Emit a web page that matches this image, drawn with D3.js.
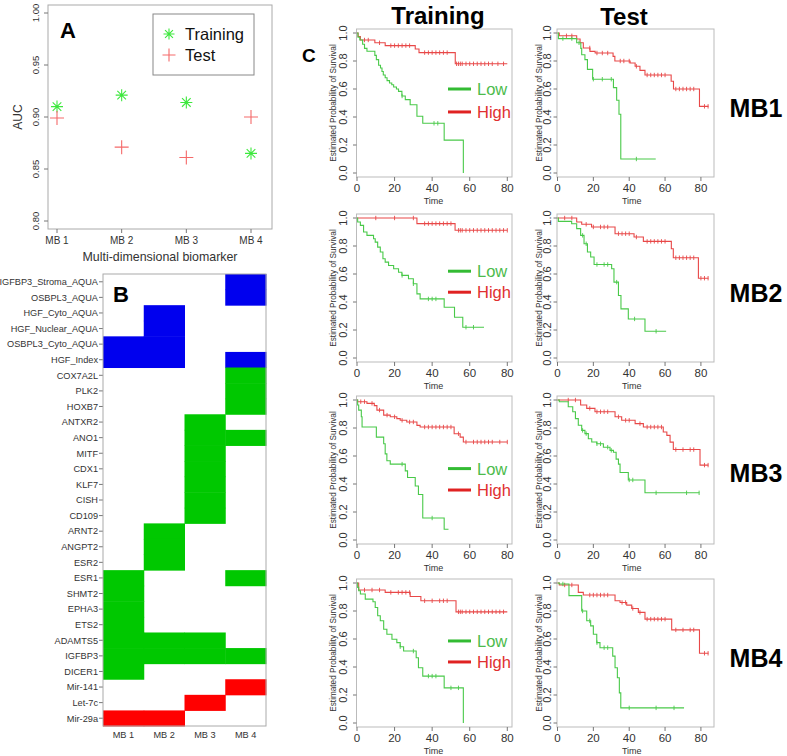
<!DOCTYPE html>
<html><head><meta charset="utf-8">
<script src="https://cdn.jsdelivr.net/npm/d3@7"></script>
<style>body{margin:0;background:#fff}svg{display:block;font-family:"Liberation Sans",Arial,Helvetica,sans-serif}</style>
</head><body><svg id="c" width="787" height="756"></svg>
<script>
// ---------- Panel A data ----------
const mbLabels = ["MB 1", "MB 2", "MB 3", "MB 4"];
const aucTraining = [0.910, 0.921, 0.914, 0.865];
const aucTest = [0.899, 0.871, 0.861, 0.900];
const aucTicks = [0.80, 0.85, 0.90, 0.95, 1.00];

// ---------- Panel B data ----------
const genes = ["IGFBP3_Stroma_AQUA","OSBPL3_AQUA","HGF_Cyto_AQUA","HGF_Nuclear_AQUA","OSBPL3_Cyto_AQUA","HGF_Index",
  "COX7A2L","PLK2","HOXB7","ANTXR2","ANO1","MITF","CDX1","KLF7","CISH","CD109","ARNT2","ANGPT2","ESR2","ESR1",
  "SHMT2","EPHA3","ETS2","ADAMTS5","IGFBP3","DICER1","Mir-141","Let-7c","Mir-29a"];
const geneType = ["aqua","aqua","aqua","aqua","aqua","aqua",
  "gene","gene","gene","gene","gene","gene","gene","gene","gene","gene","gene","gene","gene","gene",
  "gene","gene","gene","gene","gene","gene","mir","mir","mir"];
const membership = [
  [0,0,0,1],[0,0,0,1],[0,1,0,0],[0,1,0,0],[1,1,0,0],[1,1,0,1],
  [0,0,0,1],[0,0,0,1],[0,0,0,1],[0,0,1,0],[0,0,1,1],[0,0,1,0],[0,0,1,0],[0,0,1,0],[0,0,1,0],[0,0,1,0],
  [0,1,0,0],[0,1,0,0],[0,1,0,0],[1,0,0,1],[1,0,0,0],[1,0,0,0],[1,0,0,0],[1,1,1,0],[1,1,1,1],[1,0,0,0],
  [0,0,0,1],[0,0,1,0],[1,1,0,0]];

// ---------- Panel C data (Kaplan-Meier steps: [time, survival]) ----------
const kmTimeTicks = [0, 20, 40, 60, 80];
const kmSurvTicks = [0, 0.2, 0.4, 0.6, 0.8, 1.0];
const rowLabels = ["MB1", "MB2", "MB3", "MB4"];

const trainMB1Low = [[0,1],[0.5,0.97],[1.5,0.95],[3,0.92],[4,0.89],[5.3,0.87],[9.5,0.84],[10.3,0.81],[11.5,0.77],[12.5,0.75],[13.3,0.725],[14,0.70],[15,0.68],[16,0.66],[17.3,0.643],[18.5,0.63],[19.5,0.614],[21,0.60],[22.1,0.583],[23.9,0.55],[25.7,0.524],[28.3,0.488],[31.9,0.405],[35,0.355],[46.4,0.235],[56.6,0]];
const trainMB1High = [[0,1],[0.6,0.975],[1.8,0.95],[9.5,0.93],[15,0.91],[31,0.886],[33,0.86],[52.3,0.78],[80,0.78]];
const testMB1Low = [[0,1],[0.5,0.96],[10.7,0.93],[13,0.89],[13.5,0.845],[15.3,0.81],[16.7,0.74],[19.6,0.67],[31.2,0.61],[33,0.52],[34.3,0.42],[35.3,0.10],[54.8,0.10]];
const testMB1High = [[0,1],[1,0.98],[10.7,0.957],[12.6,0.93],[14.4,0.893],[18.1,0.869],[21,0.857],[31,0.833],[32,0.80],[40.5,0.786],[43.3,0.762],[46,0.733],[48.8,0.70],[63.4,0.655],[64.7,0.60],[79.2,0.476],[84.2,0.476]];

const trainMB2Low = [[0,1],[0.35,0.971],[1.8,0.947],[3.5,0.90],[5.3,0.876],[8.8,0.852],[9.7,0.828],[11,0.792],[12.4,0.757],[13.8,0.709],[15,0.685],[16.8,0.661],[19.5,0.637],[22.1,0.613],[23.9,0.59],[27.4,0.566],[30,0.53],[31.9,0.458],[33.6,0.422],[46.4,0.363],[51.9,0.291],[56.3,0.22],[67.6,0.22]];
const trainMB2High = [[0,1],[31.9,0.96],[52.2,0.912],[80,0.912]];
const testMB2Low = [[0,1],[0.5,0.976],[7.9,0.959],[10.7,0.924],[12.9,0.876],[14.8,0.816],[16.7,0.757],[18.5,0.721],[20.4,0.668],[30.2,0.637],[31.5,0.542],[34,0.446],[35.4,0.351],[39.5,0.279],[48.8,0.191],[60.6,0.191]];
const testMB2High = [[0,1],[10.7,0.971],[13.5,0.955],[19,0.936],[32.1,0.888],[42.7,0.864],[47.9,0.833],[63.5,0.78],[64.6,0.716],[78.6,0.57],[84.2,0.57]];

const trainMB3Low = [[0,1],[0.35,0.964],[0.9,0.928],[2.3,0.88],[2.7,0.807],[10.3,0.735],[14.2,0.687],[15,0.615],[15.9,0.566],[17.7,0.542],[25.7,0.494],[26.9,0.446],[31,0.386],[32.7,0.325],[35,0.157],[46.4,0.077],[48.7,0.077]];
const trainMB3High = [[0,1],[0.3,0.988],[5.3,0.976],[9.2,0.96],[10.6,0.928],[14.2,0.892],[17.7,0.88],[21.2,0.867],[23,0.855],[26.5,0.843],[31.9,0.819],[33.6,0.807],[51.7,0.759],[54.9,0.735],[56.6,0.70],[80,0.70]];
const testMB3Low = [[0,1],[1,0.988],[6,0.952],[8.5,0.916],[10,0.867],[11.6,0.82],[13.5,0.783],[15.3,0.76],[17.2,0.723],[19.1,0.70],[21.9,0.687],[25.6,0.663],[29.3,0.64],[31.2,0.627],[32.7,0.578],[34,0.542],[34.9,0.482],[39.5,0.429],[48.8,0.337],[79.2,0.337]];
const testMB3High = [[0,1],[12.9,0.964],[16.3,0.94],[20.9,0.916],[32.1,0.88],[35.8,0.855],[43.3,0.831],[47.9,0.807],[59,0.771],[61,0.747],[62.8,0.699],[64.6,0.646],[79.5,0.535],[84.2,0.535]];

const trainMB4Low = [[0,1],[0.35,0.969],[0.9,0.945],[1.8,0.921],[4.4,0.885],[8.5,0.866],[9.7,0.825],[11,0.766],[12.4,0.73],[14.2,0.67],[15.9,0.634],[18.6,0.598],[21.2,0.574],[23,0.545],[24.8,0.514],[31.5,0.466],[32.7,0.395],[35,0.335],[46.4,0.251],[56.6,0]];
const trainMB4High = [[0,1],[0.9,0.95],[15,0.933],[28.3,0.904],[34,0.873],[52.7,0.794],[80,0.794]];
const testMB4Low = [[0,1],[1,0.993],[6.4,0.91],[13.5,0.80],[16.3,0.73],[18.5,0.694],[20,0.634],[21.9,0.574],[23.7,0.538],[30.8,0.478],[32.1,0.395],[33.4,0.323],[34.5,0.215],[35.3,0.108],[70.6,0.108]];
const testMB4High = [[0,1],[1,0.986],[11.6,0.933],[14.4,0.914],[32.1,0.873],[34.9,0.861],[38.6,0.842],[41.4,0.818],[45.1,0.79],[48.8,0.742],[63.7,0.665],[79.2,0.498],[84.2,0.498]];

// censoring times
const trainMB1LowCens = [24, 41, 43];
const trainMB1HighCens = [4,6,12,18,20,22,24,26,28,36,38,40,42,44,46,48,53,54,55,56,58,60,62,64,66,68,70,72,75,78];
const testMB1LowCens = [3,8,12,20,25,30,44];
const testMB1HighCens = [5,8,18,22,25,28,35,37,40,44,50,52,54,56,58,60,66,68,70,72,74,76,82,84];
const trainMB2LowCens = [24,30,38,40,42,58,62];
const trainMB2HighCens = [10,20,30,36,38,40,42,44,46,48,50,54,55,56,58,60,62,64,66,68,70,72,74,76,78,80];
const testMB2LowCens = [14,16,22,26,28,33,43,55];
const testMB2HighCens = [4,8,16,20,24,26,28,34,36,38,40,44,50,52,54,56,58,60,66,68,70,72,74,76,80,82,84];
const trainMB3LowCens = [24,40];
const trainMB3HighCens = [2,4,8,12,16,20,24,28,30,36,38,40,42,44,46,48,50,54,58,62,64,66,68,70,72,76,80];
const testMB3LowCens = [14,16,22,24,28,30,40,42,55,72,79];
const testMB3HighCens = [6,10,18,22,24,26,28,34,38,40,46,50,52,54,56,58,66,70,74,76,82,84];
const trainMB4LowCens = [23,30,38,40,42,50,54];
const trainMB4HighCens = [4,8,12,18,22,24,26,28,36,40,44,46,48,54,55,56,58,60,62,64,66,68,70,72,74,76,78];
const testMB4LowCens = [3,14,18,22,26,28,40,55,65];
const testMB4HighCens = [4,8,18,20,22,24,26,28,36,38,42,46,50,52,54,56,58,60,66,70,74,76,82,84];

// ---------- drawing ----------
const svg = d3.select("#c");
const tickCol = "#333";
const boxCol = "#aaa";

// ===== Panel A =====
{
  const g = svg.append("g");
  const x = d3.scaleLinear().domain([1, 4]).range([57, 251]);
  const y = d3.scaleLinear().domain([0.80, 1.00]).range([221, 13]);
  g.append("rect").attr("x", 48).attr("y", 5).attr("width", 224).attr("height", 224)
    .attr("fill", "none").attr("stroke", boxCol);
  aucTicks.forEach(v => {
    g.append("line").attr("x1", 44).attr("x2", 48).attr("y1", y(v)).attr("y2", y(v)).attr("stroke", "#777");
    g.append("text").attr("transform", `translate(39,${y(v)}) rotate(-90)`).attr("text-anchor", "middle")
      .attr("font-size", 9.5).attr("fill", tickCol).text(v.toFixed(2));
  });
  mbLabels.forEach((m, i) => {
    g.append("line").attr("x1", x(i + 1)).attr("x2", x(i + 1)).attr("y1", 229).attr("y2", 233).attr("stroke", "#777");
    g.append("text").attr("x", x(i + 1)).attr("y", 244).attr("text-anchor", "middle").attr("font-size", 10)
      .attr("fill", tickCol).text(m);
  });
  g.append("text").attr("x", 160).attr("y", 261).attr("text-anchor", "middle").attr("font-size", 12.4)
    .attr("fill", tickCol).text("Multi-dimensional biomarker");
  g.append("text").attr("transform", "translate(22,117) rotate(-90)").attr("text-anchor", "middle")
    .attr("font-size", 12).attr("fill", tickCol).text("AUC");
  g.append("text").attr("x", 60).attr("y", 38).attr("font-size", 22).attr("font-weight", "bold").text("A");

  const star = (cx, cy, r) => `M${cx - r},${cy}H${cx + r}M${cx},${cy - r}V${cy + r}` +
    `M${cx - r * 0.72},${cy - r * 0.72}L${cx + r * 0.72},${cy + r * 0.72}M${cx - r * 0.72},${cy + r * 0.72}L${cx + r * 0.72},${cy - r * 0.72}`;
  const plus = (cx, cy, r) => `M${cx - r},${cy}H${cx + r}M${cx},${cy - r}V${cy + r}`;
  aucTraining.forEach((v, i) => g.append("path").attr("d", star(x(i + 1), y(v), 6)).attr("stroke", "#3ee83e").attr("stroke-width", 1.1));
  aucTest.forEach((v, i) => g.append("path").attr("d", plus(x(i + 1), y(v), 7)).attr("stroke", "#f56a6a").attr("stroke-width", 1.1));

  g.append("rect").attr("x", 153).attr("y", 14).attr("width", 101).attr("height", 61).attr("fill", "#fff").attr("stroke", "#888");
  g.append("path").attr("d", star(169, 34, 5.5)).attr("stroke", "#3ee83e").attr("stroke-width", 1.1);
  g.append("path").attr("d", plus(169, 55, 6.5)).attr("stroke", "#f56a6a").attr("stroke-width", 1.1);
  g.append("text").attr("x", 185).attr("y", 40).attr("font-size", 16.5).attr("fill", "#111").text("Training");
  g.append("text").attr("x", 185).attr("y", 61).attr("font-size", 16.5).attr("fill", "#111").text("Test");
}

// ===== Panel B =====
{
  const g = svg.append("g");
  const typeColor = { aqua: "#0000ee", gene: "#00c800", mir: "#ff0000" };
  const x = d3.scaleBand().domain(mbLabels).range([103, 266]);
  const y = d3.scaleBand().domain(genes).range([274, 726]);
  genes.forEach((gn, r) => {
    membership[r].forEach((m, c) => {
      if (m) g.append("rect").attr("x", x(mbLabels[c])).attr("y", y(gn))
        .attr("width", x.bandwidth() + 0.5).attr("height", y.bandwidth() + 0.5)
        .attr("fill", typeColor[geneType[r]]);
    });
    const cy = y(gn) + y.bandwidth() / 2;
    g.append("line").attr("x1", 99).attr("x2", 103).attr("y1", cy).attr("y2", cy).attr("stroke", "#777");
    g.append("text").attr("x", 98).attr("y", cy + 3.3).attr("text-anchor", "end").attr("font-size", 9.2)
      .attr("fill", tickCol).text(gn);
  });
  mbLabels.forEach(m => {
    g.append("text").attr("x", x(m) + x.bandwidth() / 2).attr("y", 738).attr("text-anchor", "middle")
      .attr("font-size", 9.2).attr("fill", tickCol).text(m);
  });
  g.append("rect").attr("x", 103).attr("y", 274).attr("width", 163).attr("height", 452)
    .attr("fill", "none").attr("stroke", boxCol);
  g.append("text").attr("x", 113).attr("y", 302).attr("font-size", 22).attr("font-weight", "bold").text("B");
}

// ===== Panel C =====
{
  const kmGreen = "#49c949", kmRed = "#e84848";
  const rowsY = [33, 218, 400, 583];
  const legendLowS = [0.60, 0.62, 0.51, 0.586];
  const legendHighS = [0.436, 0.47, 0.357, 0.436];
  const cols = [
    { left: 357, right: 512, tmax: 82.5, ticLab: 14, ttl: 24, curves: [
      [trainMB1Low, trainMB1High, trainMB1LowCens, trainMB1HighCens],
      [trainMB2Low, trainMB2High, trainMB2LowCens, trainMB2HighCens],
      [trainMB3Low, trainMB3High, trainMB3LowCens, trainMB3HighCens],
      [trainMB4Low, trainMB4High, trainMB4LowCens, trainMB4HighCens]] },
    { left: 557.5, right: 714, tmax: 87.3, ticLab: 10, ttl: 19, curves: [
      [testMB1Low, testMB1High, testMB1LowCens, testMB1HighCens],
      [testMB2Low, testMB2High, testMB2LowCens, testMB2HighCens],
      [testMB3Low, testMB3High, testMB3LowCens, testMB3HighCens],
      [testMB4Low, testMB4High, testMB4LowCens, testMB4HighCens]] }
  ];
  const stepVal = (curve, t) => { let s = curve[0][1]; for (const [ti, si] of curve) { if (ti <= t) s = si; else break; } return s; };
  const stepPath = (curve, x, y) => {
    let p = `M${x(curve[0][0])},${y(curve[0][1])}`;
    for (let i = 1; i < curve.length; i++) p += `H${x(curve[i][0])}V${y(curve[i][1])}`;
    return p;
  };
  cols.forEach((col, ci) => {
    col.curves.forEach((cv, ri) => {
      const g = svg.append("g");
      const y1 = rowsY[ri];
      const x = d3.scaleLinear().domain([0, col.tmax]).range([col.left, col.right]);
      const y = d3.scaleLinear().domain([0, 1]).range([y1 + 140, y1]);
      g.append("rect").attr("x", col.left - 0.5).attr("y", y1 - 4).attr("width", col.right - col.left + 0.5)
        .attr("height", 148).attr("fill", "none").attr("stroke", "#bbb");
      kmSurvTicks.forEach(v => {
        g.append("line").attr("x1", col.left - 4).attr("x2", col.left - 0.5).attr("y1", y(v)).attr("y2", y(v)).attr("stroke", "#777");
        g.append("text").attr("transform", `translate(${col.left - col.ticLab + 3.5},${y(v)}) rotate(-90)`)
          .attr("text-anchor", "middle").attr("font-size", 11).attr("fill", tickCol).text(v.toFixed(1));
      });
      kmTimeTicks.forEach(t => {
        g.append("line").attr("x1", x(t)).attr("x2", x(t)).attr("y1", y1 + 144).attr("y2", y1 + 148).attr("stroke", "#777");
        g.append("text").attr("x", x(t)).attr("y", y1 + 159).attr("text-anchor", "middle").attr("font-size", 11.5)
          .attr("fill", tickCol).text(t);
      });
      g.append("text").attr("x", (col.left + col.right) / 2 + (ci === 0 ? -1 : -4)).attr("y", y1 + 171).attr("text-anchor", "middle")
        .attr("font-size", 9).attr("fill", tickCol).text("Time");
      g.append("text").attr("transform", `translate(${col.left - col.ttl + 3},${y(0.5)}) rotate(-90)`)
        .attr("text-anchor", "middle").attr("font-size", 8.2).attr("fill", tickCol).text("Estimated Probability of Survival");

      const [low, high, lowC, highC] = cv;
      [[high, highC, kmRed], [low, lowC, kmGreen]].forEach(([crv, cens, color]) => {
        g.append("path").attr("d", stepPath(crv, x, y)).attr("fill", "none").attr("stroke", color).attr("stroke-width", 1.1);
        cens.forEach(t => {
          const s = stepVal(crv, t);
          g.append("line").attr("x1", x(t)).attr("x2", x(t)).attr("y1", y(s) - 2.2).attr("y2", y(s) + 2.2)
            .attr("stroke", color).attr("stroke-width", 0.9);
        });
      });

      if (ci === 0) {
        const ly1 = y(legendLowS[ri]), ly2 = y(legendHighS[ri]);
        g.append("line").attr("x1", col.left + 91).attr("x2", col.left + 114).attr("y1", ly1).attr("y2", ly1)
          .attr("stroke", "#33bb33").attr("stroke-width", 3);
        g.append("line").attr("x1", col.left + 91).attr("x2", col.left + 114).attr("y1", ly2).attr("y2", ly2)
          .attr("stroke", "#e02222").attr("stroke-width", 3);
        g.append("text").attr("x", col.left + 120).attr("y", ly1 + 6).attr("font-size", 16.5).attr("fill", "#4cbb4c").text("Low");
        g.append("text").attr("x", col.left + 120).attr("y", ly2 + 6).attr("font-size", 16.5).attr("fill", "#e03030").text("High");
      }
    });
  });
  svg.append("text").attr("x", 438).attr("y", 24).attr("text-anchor", "middle").attr("font-size", 24).attr("font-weight", "bold").text("Training");
  svg.append("text").attr("x", 624).attr("y", 25).attr("text-anchor", "middle").attr("font-size", 24).attr("font-weight", "bold").text("Test");
  svg.append("text").attr("x", 302).attr("y", 62).attr("font-size", 19).attr("font-weight", "bold").text("C");
  const mbY = [117, 302, 482, 667];
  rowLabels.forEach((l, i) => svg.append("text").attr("x", 756).attr("y", mbY[i]).attr("text-anchor", "middle")
    .attr("font-size", 25).attr("font-weight", "bold").text(l));
}
</script></body></html>
